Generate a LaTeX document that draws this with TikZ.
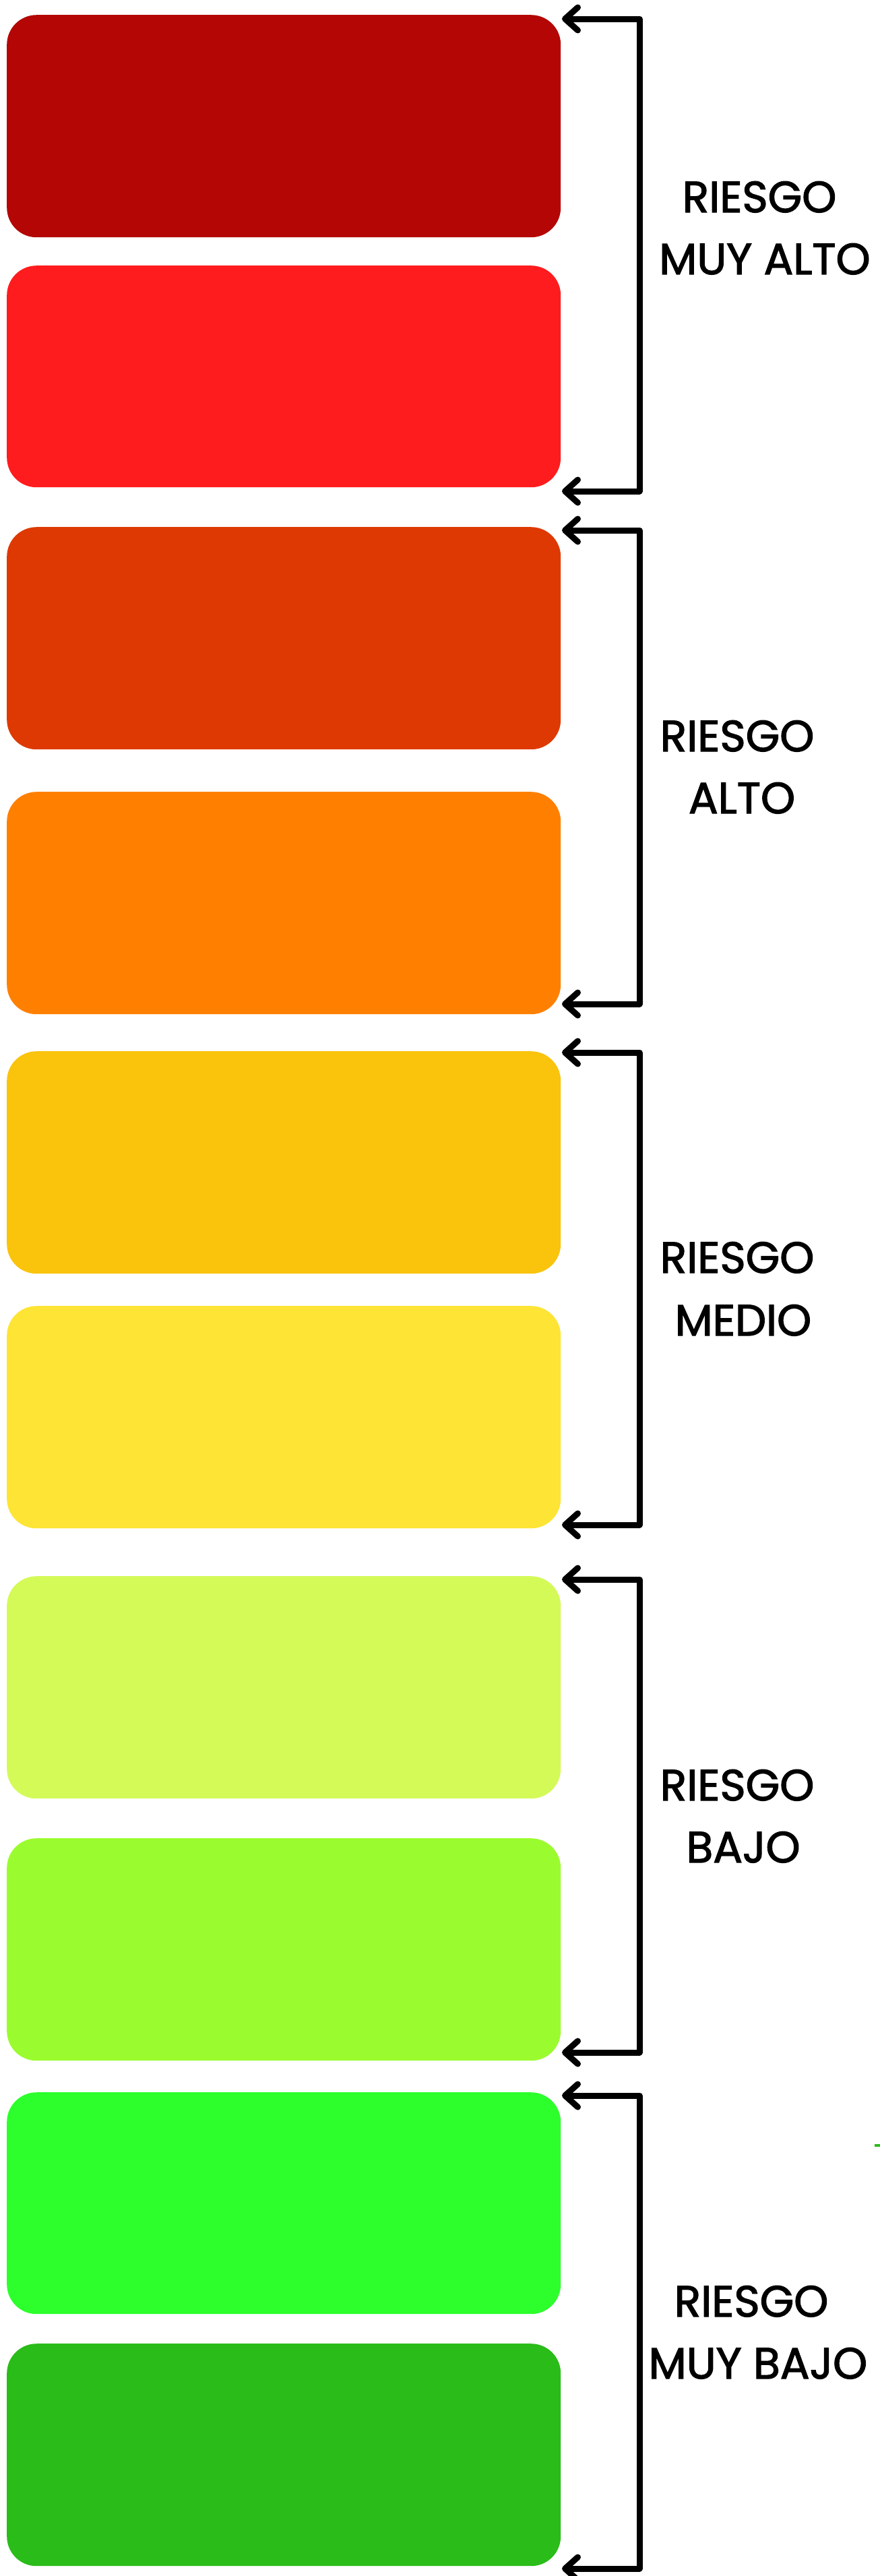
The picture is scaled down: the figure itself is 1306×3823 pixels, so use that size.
\documentclass[tikz,border=0pt]{standalone}
\usepackage{fontspec}
\setmainfont{Poppins}
\newfontfamily\lblfont{Poppins}[FakeBold=2]
\usetikzlibrary{arrows.meta}
\definecolor{c1}{RGB}{179,6,5}
\definecolor{c2}{RGB}{255,28,30}
\definecolor{c3}{RGB}{222,57,2}
\definecolor{c4}{RGB}{255,128,0}
\definecolor{c5}{RGB}{250,195,12}
\definecolor{c6}{RGB}{254,228,52}
\definecolor{c7}{RGB}{212,250,88}
\definecolor{c8}{RGB}{154,252,46}
\definecolor{c9}{RGB}{44,255,44}
\definecolor{c10}{RGB}{42,188,24}
\tikzset{
  riskbox/.style={rectangle, rounded corners=44pt, minimum width=822pt, inner sep=0pt, draw=none, anchor=north west},
  brk/.style={line width=9pt, line join=round, line cap=round, {Straight Barb[length=19pt,width=34pt,round]}-{Straight Barb[length=19pt,width=34pt,round]}},
  lbl/.style={anchor=base, inner sep=0pt, font=\lblfont\fontsize{65}{92}\selectfont}
}
\begin{document}
\begin{tikzpicture}[x=1pt,y=-1pt]
\useasboundingbox (0,0) rectangle (1306,3823);
\fill[white] (0,0) rectangle (1306,3823);
% boxes
\node[riskbox, fill=c1,  minimum height=330pt] (b1)  at (10,22) {};
\node[riskbox, fill=c2,  minimum height=329pt] (b2)  at (10,394) {};
\node[riskbox, fill=c3,  minimum height=330pt] (b3)  at (10,782) {};
\node[riskbox, fill=c4,  minimum height=330pt] (b4)  at (10,1175) {};
\node[riskbox, fill=c5,  minimum height=330pt] (b5)  at (10,1560) {};
\node[riskbox, fill=c6,  minimum height=330pt] (b6)  at (10,1938) {};
\node[riskbox, fill=c7,  minimum height=330pt] (b7)  at (10,2339) {};
\node[riskbox, fill=c8,  minimum height=330pt] (b8)  at (10,2728) {};
\node[riskbox, fill=c9,  minimum height=329pt] (b9)  at (10,3105) {};
\node[riskbox, fill=c10, minimum height=330pt] (b10) at (10,3478) {};
% bracket coordinates
\coordinate (t1) at (834,28);   \coordinate (u1) at (949,28);   \coordinate (v1) at (949,729);  \coordinate (e1) at (834,729);
\coordinate (t2) at (834,787);  \coordinate (u2) at (949,787);  \coordinate (v2) at (949,1490); \coordinate (e2) at (834,1490);
\coordinate (t3) at (834,1562); \coordinate (u3) at (949,1562); \coordinate (v3) at (949,2263); \coordinate (e3) at (834,2263);
\coordinate (t4) at (834,2344); \coordinate (u4) at (949,2344); \coordinate (v4) at (949,3046); \coordinate (e4) at (834,3046);
\coordinate (t5) at (834,3110); \coordinate (u5) at (949,3110); \coordinate (v5) at (949,3812); \coordinate (e5) at (834,3812);
\foreach \i in {1,...,5}{
  \draw[brk] (t\i) -- (u\i) -- (v\i) -- (e\i);
}
% labels
\node[lbl] (l1a) at (1127,315)  {RIESGO};
\node[lbl] (l1b) at (1135,407)  {MUY ALTO};
\node[lbl] (l2a) at (1094,1115) {RIESGO};
\node[lbl] (l2b) at (1101,1207) {ALTO};
\node[lbl] (l3a) at (1094,1889) {RIESGO};
\node[lbl] (l3b) at (1103,1982) {MEDIO};
\node[lbl] (l4a) at (1094,2672) {RIESGO};
\node[lbl] (l4b) at (1103,2764) {BAJO};
\node[lbl] (l5a) at (1115,3438) {RIESGO};
\node[lbl] (l5b) at (1125,3530) {MUY BAJO};
% small green mark at the right edge
\fill[c10] (1298,3182) rectangle (1306,3186);
\end{tikzpicture}
\end{document}
